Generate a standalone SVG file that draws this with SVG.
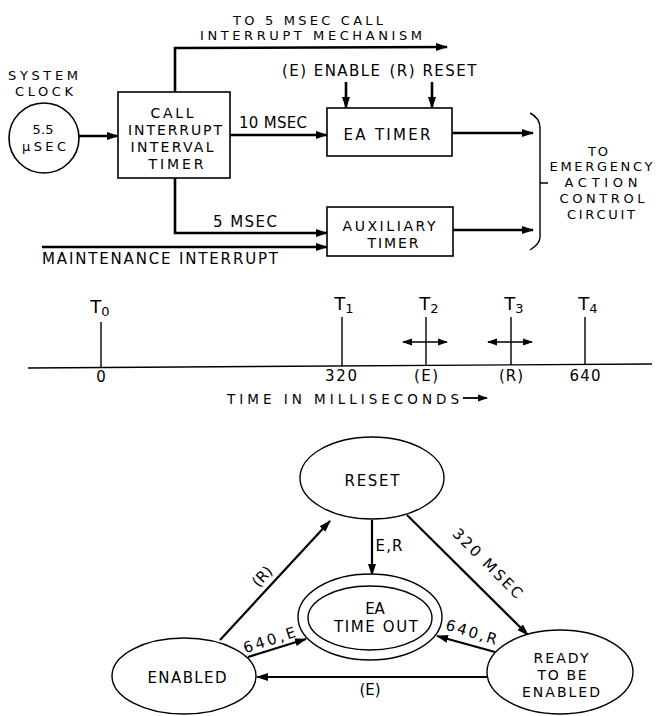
<svg xmlns="http://www.w3.org/2000/svg" width="659" height="716" viewBox="0 0 659 716">
<defs>
<marker id="ah" markerUnits="userSpaceOnUse" markerWidth="12" markerHeight="10" refX="11" refY="5" orient="auto">
<path d="M0,1 L12,5 L0,9 Z" fill="#000"/>
</marker>
<marker id="ahs" markerUnits="userSpaceOnUse" markerWidth="10" markerHeight="8" refX="9" refY="4" orient="auto-start-reverse">
<path d="M0,0.5 L10,4 L0,7.5 Z" fill="#000"/>
</marker>
<style>
text{font-family:"DejaVu Sans","Liberation Sans",sans-serif;font-size:15px;fill:#000;text-anchor:middle}
.k{font-size:13px}
.b{font-size:14px}
.s{font-size:15px}
.r{font-size:14px}
.t{font-size:18px}
.sub{font-size:13px}
.n{font-size:15px}
.box{fill:#fff;stroke:#000;stroke-width:1.6}
.ell{fill:#fff;stroke:#000;stroke-width:1.4}
.wa{fill:none;stroke:#000;stroke-width:2.6;marker-end:url(#ah)}
.thin{fill:none;stroke:#000;stroke-width:1.4}
.sa{fill:none;stroke:#000;stroke-width:2.2;marker-end:url(#ah)}
</style>
</defs>
<rect width="659" height="716" fill="#fff"/>

<g id="connectors">
<line class="wa" x1="79" y1="136" x2="118" y2="136"/>
<polyline class="wa" points="175,92 175,48 447,47"/>
<line class="wa" x1="230" y1="135" x2="327" y2="135"/>
<polyline class="wa" points="175,178 175,233 327,233"/>
<line class="wa" x1="42" y1="247" x2="327" y2="247"/>
<line class="wa" x1="346" y1="82" x2="346" y2="108"/>
<line class="wa" x1="432" y1="82" x2="432" y2="108"/>
<line class="wa" x1="452" y1="133" x2="533" y2="133"/>
<line class="wa" x1="453" y1="230" x2="533" y2="230"/>
<path class="thin" d="M530,113 Q540,118 540,128 L540,237 Q540,244 530,250 M540,183 L548,183"/>
<line class="sa" x1="220" y1="640" x2="330" y2="521"/>
<line class="sa" x1="248" y1="657" x2="306" y2="639"/>
<line class="sa" x1="372" y1="520" x2="372" y2="575"/>
<line class="sa" x1="407" y1="515" x2="528" y2="635"/>
<line class="sa" x1="495" y1="652" x2="437" y2="636"/>
<line class="sa" x1="487" y1="677" x2="257" y2="677"/>
</g>

<g id="labels">
<text x="308" y="25" class="k" textLength="150" lengthAdjust="spacing">TO 5 MSEC CALL</text>
<text x="311" y="40" class="k" textLength="222" lengthAdjust="spacing">INTERRUPT MECHANISM</text>
<text x="331" y="76" textLength="98" lengthAdjust="spacing">(E) ENABLE</text>
<text x="433" y="76" textLength="87" lengthAdjust="spacing">(R) RESET</text>
<text x="273" y="128" textLength="68" lengthAdjust="spacing">10 MSEC</text>
<text x="245" y="227" textLength="64" lengthAdjust="spacing">5 MSEC</text>
<text x="160" y="264" textLength="236" lengthAdjust="spacing">MAINTENANCE INTERRUPT</text>
<text x="598" y="156" class="k" textLength="20" lengthAdjust="spacing">TO</text>
<text x="601" y="171" class="k" textLength="103" lengthAdjust="spacing">EMERGENCY</text>
<text x="601" y="187" class="k" textLength="73" lengthAdjust="spacing">ACTION</text>
<text x="602" y="203" class="k" textLength="85" lengthAdjust="spacing">CONTROL</text>
<text x="601" y="219" class="k" textLength="68" lengthAdjust="spacing">CIRCUIT</text>
</g>

<g id="system-clock">
<text x="43" y="80" class="k" textLength="70" lengthAdjust="spacing">SYSTEM</text>
<text x="44" y="96" class="k" textLength="58" lengthAdjust="spacing">CLOCK</text>
<circle cx="44" cy="138" r="35" class="box"/>
<text x="43" y="134" class="k" textLength="21" lengthAdjust="spacing">5.5</text>
<text x="44" y="151" class="k" textLength="44" lengthAdjust="spacing">μSEC</text>
</g>

<g id="call-interrupt-timer">
<rect x="118" y="92" width="112" height="86" class="box"/>
<text x="172" y="118" class="b" textLength="43" lengthAdjust="spacing">CALL</text>
<text x="175" y="135" class="b" textLength="94" lengthAdjust="spacing">INTERRUPT</text>
<text x="172" y="152" class="b" textLength="83" lengthAdjust="spacing">INTERVAL</text>
<text x="176" y="169" class="b" textLength="55" lengthAdjust="spacing">TIMER</text>
</g>

<g id="ea-timer">
<rect x="327" y="108" width="125" height="48" class="box"/>
<text x="387" y="140" class="s" textLength="87" lengthAdjust="spacing">EA TIMER</text>
</g>

<g id="auxiliary-timer">
<rect x="327" y="207" width="126" height="49" class="box"/>
<text x="389" y="231" class="b" textLength="93" lengthAdjust="spacing">AUXILIARY</text>
<text x="393" y="248" class="b" textLength="51" lengthAdjust="spacing">TIMER</text>
</g>

<g id="timeline">
<line class="thin" x1="28" y1="368" x2="652" y2="364"/>
<line class="thin" x1="101" y1="322" x2="101" y2="368"/>
<line class="thin" x1="342" y1="317" x2="342" y2="366"/>
<line class="thin" x1="426" y1="317" x2="426" y2="365"/>
<line class="thin" x1="511" y1="317" x2="511" y2="365"/>
<line class="thin" x1="585" y1="317" x2="585" y2="364"/>
<line x1="403" y1="342" x2="447" y2="342" stroke="#000" stroke-width="1.6" marker-start="url(#ahs)" marker-end="url(#ahs)"/>
<line x1="488" y1="342" x2="532" y2="342" stroke="#000" stroke-width="1.6" marker-start="url(#ahs)" marker-end="url(#ahs)"/>
<text x="100" y="313" class="t">T<tspan class="sub" dy="3">0</tspan></text>
<text x="344" y="310" class="t">T<tspan class="sub" dy="3">1</tspan></text>
<text x="429" y="310" class="t">T<tspan class="sub" dy="3">2</tspan></text>
<text x="514" y="310" class="t">T<tspan class="sub" dy="3">3</tspan></text>
<text x="588" y="310" class="t">T<tspan class="sub" dy="3">4</tspan></text>
<text x="101" y="382" class="n">0</text>
<text x="341" y="381" class="n" textLength="32" lengthAdjust="spacing">320</text>
<text x="426" y="381" class="n" textLength="24" lengthAdjust="spacing">(E)</text>
<text x="511" y="381" class="n" textLength="24" lengthAdjust="spacing">(R)</text>
<text x="585" y="381" class="n" textLength="31" lengthAdjust="spacing">640</text>
<text x="343" y="404" style="font-size:13.5px" textLength="232" lengthAdjust="spacing">TIME IN MILLISECONDS</text>
<line x1="463" y1="398" x2="487" y2="398" stroke="#000" stroke-width="1.8" marker-end="url(#ahs)"/>
</g>

<g id="state-reset">
<ellipse cx="372" cy="478" rx="72" ry="41" class="ell"/>
<text x="372" y="486" class="s" textLength="55" lengthAdjust="spacing">RESET</text>
</g>

<g id="state-ea-time-out">
<ellipse cx="370" cy="617" rx="72" ry="43" class="ell"/>
<ellipse cx="370" cy="618" rx="62" ry="32" class="ell"/>
<text x="375" y="614" class="s">EA</text>
<text x="376" y="632" class="s" textLength="84" lengthAdjust="spacing">TIME OUT</text>
</g>

<g id="state-enabled">
<ellipse cx="184" cy="676" rx="72" ry="38" class="ell"/>
<text x="187" y="683" class="s" textLength="79" lengthAdjust="spacing">ENABLED</text>
</g>

<g id="state-ready">
<ellipse cx="560" cy="672" rx="73" ry="42" class="ell"/>
<text x="561" y="663" class="r" textLength="55" lengthAdjust="spacing">READY</text>
<text x="562" y="680" class="r" textLength="49" lengthAdjust="spacing">TO BE</text>
<text x="561" y="697" class="r" textLength="78" lengthAdjust="spacing">ENABLED</text>
</g>

<g id="state-labels">
<text x="0" y="0" class="s" transform="translate(266,580) rotate(-47)">(R)</text>
<text x="0" y="0" class="s" transform="translate(271,645) rotate(-18)" textLength="54" lengthAdjust="spacing">640,E</text>
<text x="389" y="551" class="s" textLength="27" lengthAdjust="spacing">E,R</text>
<text x="0" y="0" class="s" transform="translate(484,567) rotate(45)" textLength="92" lengthAdjust="spacing">320 MSEC</text>
<text x="0" y="0" class="s" transform="translate(470,637) rotate(17)" textLength="53" lengthAdjust="spacing">640,R</text>
<text x="370" y="695" class="s">(E)</text>
</g>
</svg>
